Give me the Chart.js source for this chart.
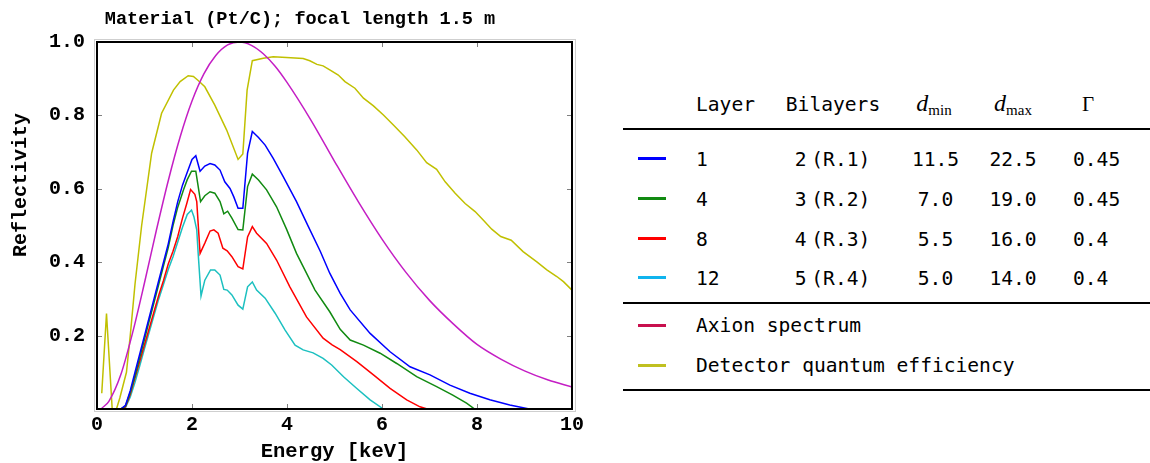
<!DOCTYPE html>
<html>
<head>
<meta charset="utf-8">
<script src="https://cdn.jsdelivr.net/npm/chart.js@4/dist/chart.umd.min.js"></script>
<style>
  html, body { margin:0; padding:0; background:#fff; }
  body { width:1150px; height:463px; position:relative; overflow:hidden; }
  #chart { position:absolute; left:0; top:0; }
  .t { position:absolute; white-space:pre; font-family:"DejaVu Sans Mono", monospace; font-size:19.6px; line-height:19.6px; color:#000; }
  .c { transform:translateX(-50%); }
  .rule { position:absolute; left:623px; width:527px; height:2px; background:#000; }
  .sw { position:absolute; left:638px; width:28px; height:3px; }
  .hd { position:absolute; font-family:"Liberation Serif", serif; color:#000; white-space:pre; line-height:1; }
</style>
</head>
<body>
<canvas id="chart" width="600" height="463"></canvas>
<div id="legend"></div>
<script>
// ---------- data ----------
const layer1E = [0.5,0.6,0.7,0.8,0.9,1.0,1.1,1.2,1.3,1.4,1.5,1.6,1.7,1.8,1.9,2.0,2.08,2.17,2.27,2.38,2.48,2.59,2.69,2.8,2.88,2.97,3.07,3.17,3.27,3.4,3.54,3.71,3.92,4.2,4.45,4.7,4.9,5.12,5.33,5.75,6.17,6.59,7.01,7.43,7.85,8.27,8.69,9.1];
const layer1R = [0,0.01,0.05,0.10,0.15,0.20,0.25,0.30,0.35,0.40,0.45,0.51,0.565,0.61,0.645,0.68,0.69,0.648,0.662,0.669,0.665,0.651,0.619,0.601,0.578,0.547,0.547,0.697,0.756,0.740,0.719,0.683,0.633,0.565,0.497,0.43,0.37,0.315,0.27,0.206,0.156,0.115,0.093,0.065,0.043,0.025,0.011,0];

const layer4E = [0.5,0.6,0.7,0.8,0.9,1.0,1.1,1.2,1.3,1.4,1.5,1.6,1.7,1.82,1.9,1.99,2.08,2.18,2.27,2.38,2.48,2.59,2.67,2.75,2.84,2.97,3.07,3.17,3.27,3.4,3.57,3.78,3.99,4.2,4.59,4.9,5.12,5.33,5.61,5.96,6.31,6.73,7.15,7.49,7.78,7.95];
const layer4R = [0,0.008,0.045,0.09,0.14,0.19,0.24,0.29,0.34,0.39,0.44,0.50,0.55,0.597,0.625,0.648,0.648,0.565,0.581,0.592,0.588,0.565,0.532,0.539,0.52,0.489,0.488,0.606,0.640,0.624,0.597,0.551,0.490,0.424,0.324,0.265,0.217,0.188,0.174,0.152,0.124,0.088,0.061,0.038,0.016,0];

const layer8E = [0.52,0.6,0.7,0.8,0.9,1.0,1.1,1.2,1.3,1.4,1.5,1.6,1.7,1.8,1.89,1.97,2.06,2.1,2.17,2.27,2.38,2.46,2.55,2.65,2.74,2.84,2.97,3.07,3.17,3.27,3.36,3.57,3.78,4.06,4.41,4.76,4.95,5.12,5.47,5.82,6.17,6.52,6.8,6.95];
const layer8R = [0,0.006,0.04,0.085,0.13,0.175,0.22,0.265,0.31,0.35,0.395,0.43,0.47,0.52,0.56,0.598,0.585,0.565,0.424,0.452,0.485,0.488,0.479,0.438,0.431,0.415,0.388,0.382,0.469,0.497,0.479,0.451,0.406,0.333,0.251,0.193,0.175,0.162,0.129,0.093,0.056,0.025,0.006,0];

const layer12E = [0.55,0.6,0.7,0.8,0.9,1.0,1.1,1.2,1.3,1.4,1.5,1.6,1.7,1.8,1.9,1.99,2.04,2.1,2.13,2.19,2.27,2.39,2.48,2.59,2.67,2.74,2.84,2.97,3.07,3.17,3.27,3.36,3.54,3.75,3.96,4.17,4.34,4.55,4.76,4.94,5.19,5.47,5.75,6.03];
const layer12R = [0,0.004,0.033,0.073,0.118,0.165,0.21,0.255,0.30,0.34,0.38,0.415,0.455,0.495,0.53,0.542,0.524,0.488,0.424,0.308,0.351,0.379,0.379,0.365,0.326,0.324,0.311,0.283,0.272,0.333,0.346,0.324,0.302,0.261,0.215,0.174,0.161,0.153,0.138,0.120,0.088,0.056,0.025,0];

const axionE = [0.1,0.25,0.5,0.75,1,1.25,1.5,1.75,2,2.25,2.5,2.75,3,3.25,3.5,3.75,4,4.5,5,5.5,6,6.5,7,7.5,8,8.5,9,9.5,10];
const axionR = [0.002,0.021,0.093,0.208,0.344,0.487,0.622,0.741,0.839,0.913,0.963,0.992,1.0,0.991,0.968,0.934,0.890,0.788,0.675,0.565,0.463,0.373,0.296,0.232,0.176,0.136,0.104,0.079,0.06];

const dqeE = [0.1,0.2,0.32,0.41,0.48,0.62,0.7,0.8,0.94,1.15,1.36,1.61,1.75,1.92,2.03,2.13,2.27,2.48,2.73,2.97,3.07,3.16,3.27,3.5,3.71,3.99,4.34,4.48,4.63,4.76,4.9,5.08,5.22,5.43,5.61,5.82,6.03,6.24,6.48,6.73,6.94,7.15,7.33,7.54,7.75,7.96,8.13,8.31,8.5,8.72,8.97,9.26,9.47,9.68,9.82,10];
const dqeR = [0.043,0.26,0.0,0.0,0.03,0.10,0.2,0.34,0.50,0.697,0.806,0.869,0.892,0.908,0.906,0.895,0.878,0.828,0.76,0.680,0.695,0.869,0.949,0.956,0.960,0.958,0.955,0.949,0.939,0.935,0.924,0.91,0.892,0.874,0.847,0.826,0.801,0.774,0.742,0.706,0.671,0.653,0.619,0.588,0.560,0.538,0.515,0.490,0.47,0.460,0.429,0.401,0.379,0.361,0.347,0.324];

const xTicks = [0,2,4,6,8,10];
const yTicks = [0.2,0.4,0.6,0.8,1.0];

const titleText = "Material (Pt/C); focal length 1.5 m";
const xTitle = "Energy [keV]";
const yTitle = "Reflectivity";

// legend table
const tableHeader = ["Layer", "Bilayers"];
const layerNames = ["1","4","8","12"];
const bilayerNames = ["2 (R.1)","3 (R.2)","4 (R.3)","5 (R.4)"];
const dminVals = ["11.5","7.0","5.5","5.0"];
const dmaxVals = ["22.5","19.0","16.0","14.0"];
const gammaVals = ["0.45","0.45","0.4","0.4"];
const extraNames = ["Axion spectrum","Detector quantum efficiency"];

// ---------- chart ----------
const pts = (E, R) => E.map((e, i) => ({x: e, y: R[i]}));
const series = [
  {label: "Layer 1", E: layer1E, R: layer1R, color: "#0000ff"},
  {label: "Layer 4", E: layer4E, R: layer4R, color: "#118a11"},
  {label: "Layer 8", E: layer8E, R: layer8R, color: "#ff0000"},
  {label: "Layer 12", E: layer12E, R: layer12R, color: "#1cc0c0"},
  {label: "Axion spectrum", E: axionE, R: axionR, color: "#c41ec4", smooth: true},
  {label: "Detector quantum efficiency", E: dqeE, R: dqeR, color: "#c0c000"}
];

const mono = "'Liberation Mono', 'Courier New', monospace";

const framePlugin = {
  id: 'frame',
  afterDatasetsDraw(chart) {
    const {ctx, chartArea: a, scales} = chart;
    ctx.save();
    // outer light frame
    ctx.strokeStyle = '#cfcfcf';
    ctx.lineWidth = 1;
    ctx.strokeRect(a.left - 2.5, a.top - 2.5, a.right - a.left + 6, a.bottom - a.top + 5);
    // inward ticks
    ctx.strokeStyle = '#808080';
    ctx.lineWidth = 1;
    ctx.beginPath();
    xTicks.forEach(v => {
      if (v <= 0 || v >= 10) return;
      const px = Math.round(scales.x.getPixelForValue(v)) + 0.5;
      ctx.moveTo(px, a.bottom); ctx.lineTo(px, a.bottom - 5);
      ctx.moveTo(px, a.top); ctx.lineTo(px, a.top + 5);
    });
    yTicks.forEach(v => {
      if (v >= 1) return;
      const py = Math.round(scales.y.getPixelForValue(v)) + 0.5;
      ctx.moveTo(a.left, py); ctx.lineTo(a.left + 5, py);
      ctx.moveTo(a.right, py); ctx.lineTo(a.right - 5, py);
    });
    ctx.stroke();
    // black frame
    ctx.strokeStyle = '#000';
    ctx.lineWidth = 2;
    ctx.strokeRect(a.left, a.top, a.right - a.left, a.bottom - a.top);
    // titles
    ctx.fillStyle = '#000';
    ctx.textAlign = 'center';
    ctx.textBaseline = 'middle';
    ctx.font = "bold 18.6px " + mono;
    ctx.fillText(titleText, 300, 19);
    ctx.font = "bold 20.5px " + mono;
    ctx.fillText(xTitle, (a.left + a.right) / 2, 452);
    ctx.save();
    ctx.translate(21, 185);
    ctx.rotate(-Math.PI / 2);
    ctx.font = "bold 20px " + mono;
    ctx.fillText(yTitle, 0, 0);
    ctx.restore();
    ctx.restore();
  }
};

new Chart(document.getElementById('chart'), {
  type: 'line',
  data: {
    datasets: series.map(s => ({
      label: s.label,
      data: pts(s.E, s.R),
      borderColor: s.color,
      backgroundColor: s.color,
      borderWidth: 1.5,
      pointRadius: 0,
      fill: false,
      tension: 0,
      cubicInterpolationMode: s.smooth ? 'monotone' : 'default'
    }))
  },
  options: {
    responsive: false,
    animation: false,
    devicePixelRatio: 1,
    layout: {padding: {top: 42, right: 28, left: 0, bottom: 0}},
    plugins: {legend: {display: false}, title: {display: false}, tooltip: {enabled: false}},
    scales: {
      x: {
        type: 'linear', min: 0, max: 10,
        grid: {display: false, drawTicks: false},
        border: {display: false},
        afterFit: s => { s.height = 54; },
        afterBuildTicks: s => { s.ticks = xTicks.map(v => ({value: v})); },
        ticks: {
          padding: 4, color: '#000', maxRotation: 0, autoSkip: false,
          font: {family: mono, weight: 'bold', size: 20},
          callback: v => String(v)
        }
      },
      y: {
        type: 'linear', min: 0, max: 1,
        grid: {display: false, drawTicks: false},
        border: {display: false},
        afterFit: s => { s.width = 97; },
        afterBuildTicks: s => { s.ticks = yTicks.map(v => ({value: v})); },
        ticks: {
          padding: 12, color: '#000', autoSkip: false,
          font: {family: mono, weight: 'bold', size: 20},
          callback: v => Number(v).toFixed(1)
        }
      }
    }
  },
  plugins: [framePlugin]
});

// ---------- legend table (HTML) ----------
const L = document.getElementById('legend');
function add(html) { L.insertAdjacentHTML('beforeend', html); }
const capOff = 9.5; // cap centre offset within a mono text box
const headerY = 104.5;
const rowY = [159.5, 199.5, 239, 278.5];
const extraY = [325, 365];
const rowColors = ["#0000ff", "#118a11", "#ff0000", "#10b4ee"];
const extraColors = ["#c8104e", "#c0c020"];

add(`<div class="t" style="left:696px;top:${headerY - capOff}px">${tableHeader[0]}</div>`);
add(`<div class="t c" style="left:833px;top:${headerY - capOff}px">${tableHeader[1]}</div>`);
add(`<div class="hd c" style="left:934px;top:91px"><span style="font-style:italic;font-size:24px">d</span><span style="font-size:15px;position:relative;top:4px">min</span></div>`);
add(`<div class="hd c" style="left:1013px;top:91px"><span style="font-style:italic;font-size:24px">d</span><span style="font-size:15px;position:relative;top:4px">max</span></div>`);
add(`<div class="hd c" style="left:1088px;top:94px;font-size:21px">Γ</div>`);
add(`<div class="rule" style="top:127.5px"></div>`);
rowY.forEach((y, i) => {
  add(`<div class="sw" style="top:${y - 2.5}px;background:${rowColors[i]}"></div>`);
  add(`<div class="t" style="left:696px;top:${y - capOff}px">${layerNames[i]}</div>`);
  add(`<div class="t c" style="left:832.5px;top:${y - capOff}px;word-spacing:-7px">${bilayerNames[i]}</div>`);
  add(`<div class="t c" style="left:935.5px;top:${y - capOff}px">${dminVals[i]}</div>`);
  add(`<div class="t c" style="left:1013px;top:${y - capOff}px">${dmaxVals[i]}</div>`);
  add(`<div class="t" style="left:1073px;top:${y - capOff}px">${gammaVals[i]}</div>`);
});
add(`<div class="rule" style="top:301.5px"></div>`);
extraY.forEach((y, i) => {
  add(`<div class="sw" style="top:${y - 1.5}px;background:${extraColors[i]}"></div>`);
  add(`<div class="t" style="left:696px;top:${y - capOff}px">${extraNames[i]}</div>`);
});
add(`<div class="rule" style="top:389px"></div>`);
</script>
</body>
</html>
